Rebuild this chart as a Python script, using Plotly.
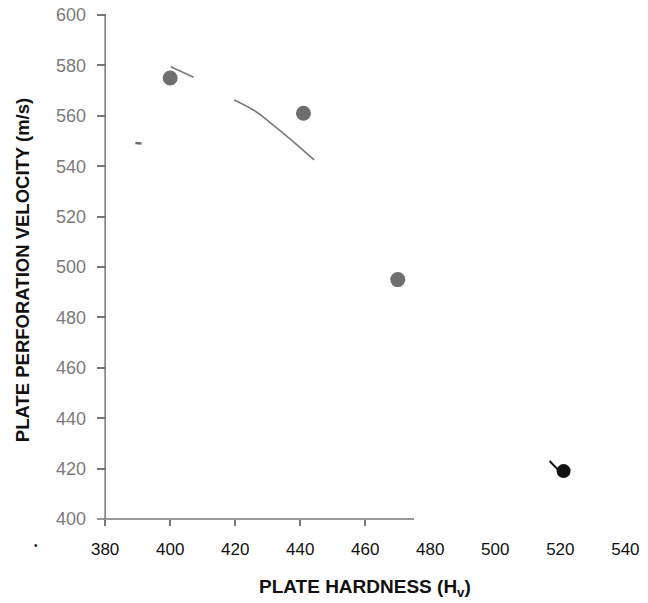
import plotly.graph_objects as go

# data
pt_x = [400, 441, 470]
pt_y = [575, 561, 495]
black_x = [521]
black_y = [419]

seg1_x = [400.2, 403.5, 407.2]
seg1_y = [579.5, 577.6, 575.3]
seg2_x = [419.7, 426, 432, 438, 444.3]
seg2_y = [566.3, 562.0, 556.0, 549.6, 542.5]
dash_x = [389.3, 391.2]
dash_y = [549.2, 549.0]
tick_x = [516.7, 519.4]
tick_y = [423.0, 419.4]

y_ticks = [400, 420, 440, 460, 480, 500, 520, 540, 560, 580, 600]
x_ticks_marked = [380, 400, 420, 440, 460]
x_tick_labels = [380, 400, 420, 440, 460, 480, 500, 520, 540]

gray = "#6e6e6e"
fig = go.Figure()
fig.add_trace(go.Scatter(x=seg1_x, y=seg1_y, mode="lines", line=dict(color="#7a7a7a", width=1.6), showlegend=False))
fig.add_trace(go.Scatter(x=seg2_x, y=seg2_y, mode="lines", line=dict(color="#7a7a7a", width=1.6, shape="spline"), showlegend=False))
fig.add_trace(go.Scatter(x=dash_x, y=dash_y, mode="lines", line=dict(color="#6e6e6e", width=2.5), showlegend=False))
fig.add_trace(go.Scatter(x=tick_x, y=tick_y, mode="lines", line=dict(color="#111", width=2), showlegend=False))
fig.add_trace(go.Scatter(x=pt_x, y=pt_y, mode="markers", marker=dict(color=gray, size=15, line=dict(width=0)), showlegend=False))
fig.add_trace(go.Scatter(x=black_x, y=black_y, mode="markers", marker=dict(color="#111", size=14, line=dict(width=0)), showlegend=False))
# dummy for second x axis
fig.add_trace(go.Scatter(x=[None], y=[None], xaxis="x2", showlegend=False))

xr = [377.5, 544.5]
fig.update_layout(
    width=648, height=603,
    margin=dict(l=97, r=8, t=12, b=84, autoexpand=False),
    paper_bgcolor="white", plot_bgcolor="white",
    font=dict(family="Liberation Sans, Arial, sans-serif"),
    hovermode=False,
    xaxis=dict(range=xr, tickvals=x_ticks_marked, showticklabels=False, ticks="outside", ticklen=6,
               tickcolor="#777", tickwidth=1.5, showgrid=False, zeroline=False, showline=False, automargin=False),
    xaxis2=dict(range=xr, overlaying="x", side="bottom", tickvals=x_tick_labels, ticks="", showgrid=False,
                zeroline=False, showline=False, ticklabelstandoff=18, automargin=False,
                tickfont=dict(size=17, color="#111")),
    yaxis=dict(range=[400, 601.2], tickvals=y_ticks, ticks="inside", ticklen=9, tickcolor="#777", tickwidth=1.5,
               showgrid=False, zeroline=False, showline=False, ticklabelstandoff=10, automargin=False,
               ticklabeloverflow="allow",
               tickfont=dict(size=18, color="#7a7a7a")),
    shapes=[
        dict(type="line", xref="x", yref="y", x0=380, x1=380, y0=400, y1=600, line=dict(color="#777", width=1.5)),
        dict(type="line", xref="x", yref="paper", x0=377.5, x1=475, y0=0, y1=0, line=dict(color="#777", width=1.5)),
    ],
    annotations=[
        dict(text="•", xref="paper", yref="paper", x=-0.12, y=-0.068, showarrow=False,
             font=dict(size=10, color="#111")),
        dict(text="<b>PLATE PERFORATION VELOCITY (m/s)</b>", xref="paper", yref="paper", x=-0.138, y=0.491,
             xanchor="center", yanchor="middle", textangle=-90, showarrow=False,
             font=dict(size=18.5, color="#111")),
        dict(text="<b>PLATE HARDNESS (H<sub>v</sub>)</b>", xref="paper", yref="paper", x=0.494, y=-0.136,
             xanchor="center", yanchor="middle", showarrow=False,
             font=dict(size=19, color="#111")),
    ],
)
fig.write_html("out.html", config={"displayModeBar": False},
               post_script="document.body.style.margin='0';")
